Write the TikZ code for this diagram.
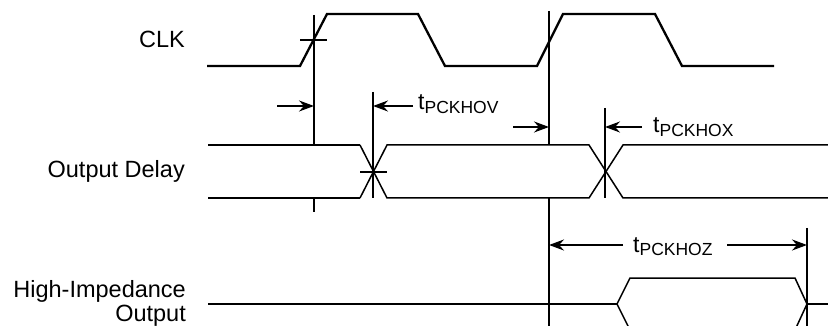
\documentclass[tikz,border=0pt]{standalone}
\usepackage{fontspec}
\setmainfont{Liberation Sans}
\usetikzlibrary{arrows.meta}
\newcommand{\tsub}[1]{{\fontsize{23}{26}\selectfont t}\raisebox{-3.5pt}{\fontsize{17.5}{17}\selectfont #1}}
\begin{document}
\begin{tikzpicture}[x=1pt,y=-1pt,line join=miter,
  sig/.style={line width=2.3pt},
  thinsig/.style={line width=1.5pt},
  vline/.style={line width=2pt},
  dimarrow/.style={line width=2pt,-{Stealth[length=15pt,width=11pt,inset=5pt]}},
  lbl/.style={font=\fontsize{23.5}{26}\selectfont,anchor=base east,inner sep=0pt},
  tlbl/.style={anchor=base west,inner sep=0pt}]
\clip (0,0) rectangle (828,326);
% named coordinates
\coordinate (v1t) at (314,15);  \coordinate (v1a) at (314,145);
\coordinate (v1b) at (314,198); \coordinate (v1e) at (314,212);
\coordinate (v2t) at (373,92);  \coordinate (v2e) at (373,198);
\coordinate (v3t) at (549,11);  \coordinate (v3a) at (549,145);
\coordinate (v3b) at (549,198); \coordinate (v3e) at (549,330);
\coordinate (v4t) at (605,108); \coordinate (v4e) at (605,198);
\coordinate (v5t) at (807,228); \coordinate (v5e) at (807,330);
% labels
\node[lbl] (clk) at (185,48) {CLK};
\node[lbl] (od) at (185,178) {Output Delay};
\node[lbl] (hi) at (186,297) {High-Impedance};
\node[lbl] (out) at (186,321) {Output};
% CLK
\draw[sig] (207,66) -- (300,66) -- (327,14) -- (418,14) -- (445,66) -- (537,66) -- (563,14) -- (655,14) -- (682,66) -- (774,66);
\draw[vline] (300,40) -- (327,40);
% Output delay
\draw[sig] (208,145) -- (360,145);
\draw[sig] (208,198) -- (360,198);
\draw[thinsig] (360,145) -- (387,198) -- (589,198) -- (623,145) -- (828,145);
\draw[thinsig] (360,198) -- (387,145) -- (589,145) -- (623,198) -- (828,198);
\draw[vline] (360,172) -- (387,172);
% High impedance
\draw[sig] (208,304) -- (617,304);
\draw[thinsig] (630,330) -- (617,304) -- (630,278) -- (795,278) -- (807,304) -- (795,330);
\draw[sig] (807,304) -- (828,304);
% vertical lines
\draw[vline] (v1t) -- (v1a);
\draw[vline] (v1b) -- (v1e);
\draw[vline] (v2t) -- (v2e);
\draw[vline] (v3t) -- (v3a);
\draw[vline] (v3b) -- (v3e);
\draw[vline] (v4t) -- (v4e);
\draw[vline] (v5t) -- (v5e);
% arrows
\coordinate (a1s) at (277,106); \coordinate (a1e) at (314,106);
\coordinate (a2s) at (413,106); \coordinate (a2e) at (373,106);
\coordinate (a3s) at (513,127); \coordinate (a3e) at (549,127);
\coordinate (a4s) at (642,127); \coordinate (a4e) at (605,127);
\coordinate (a5s) at (623,245); \coordinate (a5e) at (549,245);
\coordinate (a6s) at (727,245); \coordinate (a6e) at (807,245);
\draw[dimarrow] (a1s) -- (a1e);
\draw[dimarrow] (a2s) -- (a2e);
\draw[dimarrow] (a3s) -- (a3e);
\draw[dimarrow] (a4s) -- (a4e);
\draw[dimarrow] (a5s) -- (a5e);
\draw[dimarrow] (a6s) -- (a6e);
% timing labels
\node[tlbl] (hov) at (418,110) {\tsub{PCKHOV}};
\node[tlbl] (hox) at (653,133) {\tsub{PCKHOX}};
\node[tlbl] (hoz) at (633,252) {\tsub{PCKHOZ}};
\end{tikzpicture}
\end{document}
